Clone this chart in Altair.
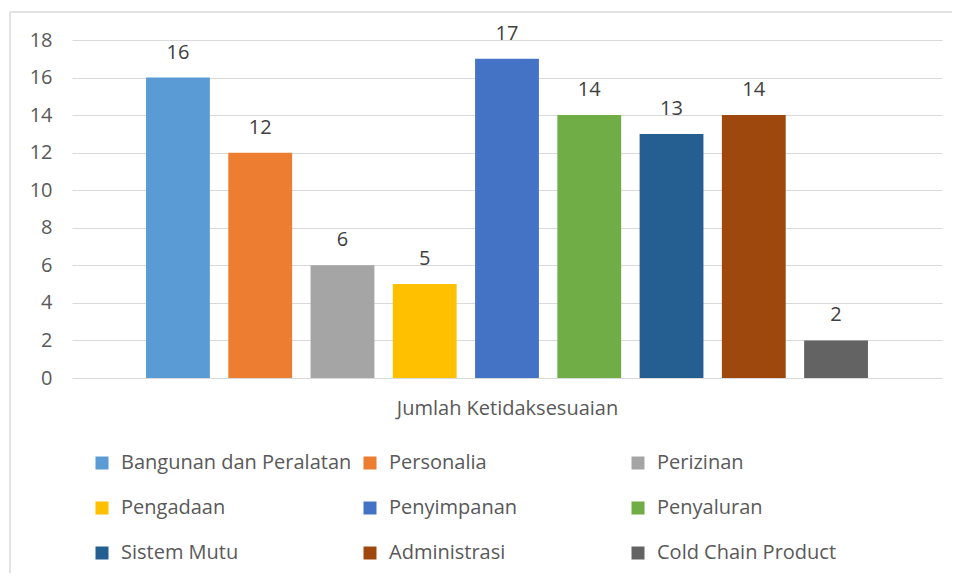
import altair as alt
import pandas as pd

kategori = ["Bangunan dan Peralatan", "Personalia", "Perizinan", "Pengadaan",
            "Penyimpanan", "Penyaluran", "Sistem Mutu", "Administrasi",
            "Cold Chain Product"]
nilai = [16, 12, 6, 5, 17, 14, 13, 14, 2]
warna = ["#5B9BD5", "#ED7D31", "#A5A5A5", "#FFC000", "#4472C4",
         "#70AD47", "#255E91", "#9E480E", "#636363"]
y_ticks = [0, 2, 4, 6, 8, 10, 12, 14, 16, 18]

df = pd.DataFrame({"kategori": kategori, "nilai": nilai})

FONT = "Open Sans"
FS = 20

x_enc = alt.X("kategori:N", sort=kategori,
              scale=alt.Scale(domain=kategori, paddingInner=0.224, paddingOuter=0.9),
              axis=alt.Axis(labels=False, ticks=False, domain=False,
                            title="Jumlah Ketidaksesuaian", titleFontSize=FS,
                            titleFontWeight="normal", titleColor="#595959",
                            titlePadding=20, titleFont=FONT))
y_enc = alt.Y("nilai:Q", scale=alt.Scale(domain=[0, 18], nice=False),
              axis=alt.Axis(values=y_ticks, grid=True, gridColor="#d9d9d9",
                            domain=False, ticks=False, labelPadding=20,
                            labelOverlap=False, labelFontSize=FS,
                            labelColor="#595959", labelFont=FONT, title=None))

base = alt.Chart(df)

bars = base.mark_bar().encode(
    x=x_enc,
    y=y_enc,
    color=alt.Color("kategori:N",
                    scale=alt.Scale(domain=kategori, range=warna),
                    legend=alt.Legend(orient="none", legendX=20, legendY=413,
                                      columns=3, direction="horizontal",
                                      title=None,
                                      symbolType="square", symbolSize=169,
                                      symbolStrokeWidth=0,
                                      labelFontSize=FS, labelColor="#595959",
                                      labelFont=FONT, labelOffset=9,
                                      rowPadding=25, columnPadding=8,
                                      gridAlign="all", labelLimit=400)),
)

labels = base.mark_text(dy=-25, baseline="middle", fontSize=FS,
                        color="#404040", font=FONT).encode(
    x=x_enc,
    y=y_enc,
    text="nilai:Q",
)

frame_df = pd.DataFrame({"f": [0]})
left_line = alt.Chart(frame_df).mark_rule(color="#d9d9d9", strokeWidth=1.5).encode(
    x=alt.value(-62), y=alt.value(-28), y2=alt.value(560))
top_line = alt.Chart(frame_df).mark_rule(color="#d9d9d9", strokeWidth=1.5).encode(
    x=alt.value(-62), x2=alt.value(880), y=alt.value(-28))

chart = alt.layer(left_line, top_line, bars, labels).properties(
    width=870, height=338,
    padding={"left": 64, "top": 32, "right": 10, "bottom": 195},
    autosize=alt.AutoSizeParams(type="none"),
    background="white",
).configure_view(stroke=None)

chart.save("out.html", embed_options={"renderer": "svg", "actions": False})
